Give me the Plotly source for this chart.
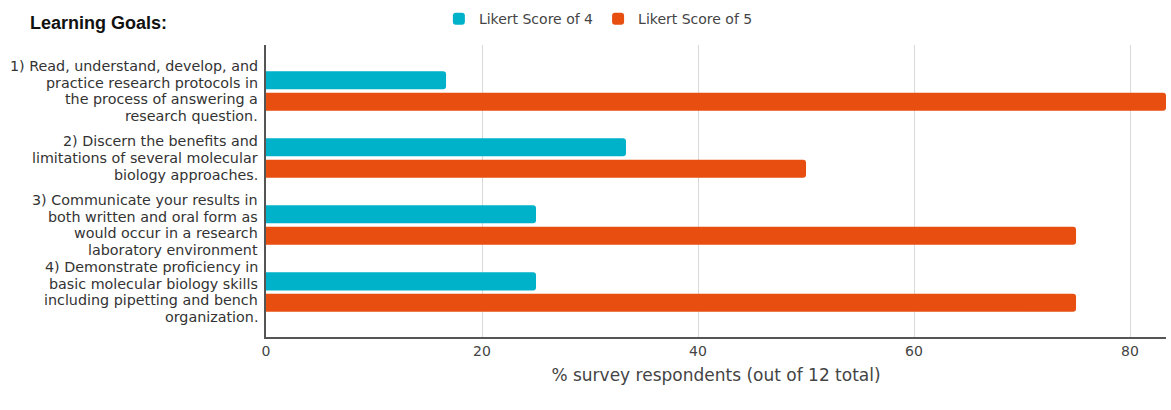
import plotly.graph_objects as go

categories = [
    "1) Read, understand, develop, and<br>practice research protocols in<br>the process of answering a<br>research question.",
    "2) Discern the benefits and<br>limitations of several molecular<br>biology approaches.",
    "3) Communicate your results in<br>both written and oral form as<br>would occur in a research<br>laboratory environment",
    "4) Demonstrate proficiency in<br>basic molecular biology skills<br>including pipetting and bench<br>organization.",
]
score4 = [16.67, 33.33, 25.0, 25.0]
score5 = [83.33, 50.0, 75.0, 75.0]
series_names = ["Likert Score of 4", "Likert Score of 5"]
x_ticks = [0, 20, 40, 60, 80]

fig = go.Figure()
fig.add_trace(go.Bar(y=categories, x=score4, orientation="h", name=series_names[0],
                     marker=dict(color="#00B1CA", line=dict(width=0))))
fig.add_trace(go.Bar(y=categories, x=score5, orientation="h", name=series_names[1],
                     marker=dict(color="#E84E0F", line=dict(width=0))))

# category labels: one annotation per line, tighter line spacing than tick labels allow
annotations = []
line_step = 16.7
for ci, cat in enumerate(categories):
    lines = cat.split("<br>")
    n = len(lines)
    for li, txt in enumerate(lines):
        annotations.append(dict(
            text=txt, xref="paper", yref="y", x=0, y=ci,
            xanchor="right", yanchor="middle", align="right",
            xshift=-6, yshift=((n - 1) / 2 - li) * line_step,
            showarrow=False,
            font=dict(family="DejaVu Sans", size=14.3, color="#333")))

annotations.append(dict(text="<b>Learning Goals:</b>", xref="paper", yref="paper",
                        x=-0.265, y=1.075, xanchor="left", yanchor="middle", showarrow=False,
                        font=dict(family="Liberation Sans", size=18, color="#111")))

fig.update_layout(
    width=1171, height=410,
    margin=dict(l=266, r=5, t=45, b=73),
    paper_bgcolor="white", plot_bgcolor="white",
    barmode="group", bargap=0.36, bargroupgap=0.16, barcornerradius=3,
    legend=dict(orientation="h", xref="container", yref="container",
                x=0.511, y=0.953, xanchor="center", yanchor="middle",
                font=dict(family="DejaVu Sans", size=14, color="#444"),
                traceorder="normal", itemwidth=30),
    annotations=annotations,
)
fig.update_xaxes(range=[0, 83.33], tickvals=x_ticks, showgrid=True, gridcolor="#d9d9d9",
                 showline=True, linecolor="#555", linewidth=1.5, zeroline=False,
                 tickfont=dict(family="DejaVu Sans", size=14, color="#444"),
                 title=dict(text="% survey respondents (out of 12 total)", standoff=12,
                            font=dict(family="DejaVu Sans", size=17, color="#444")))
fig.update_yaxes(range=[3.67, -0.687], showline=True, linecolor="#555", linewidth=1.5,
                 ticks="", showticklabels=False)

fig.write_html("out.html")
